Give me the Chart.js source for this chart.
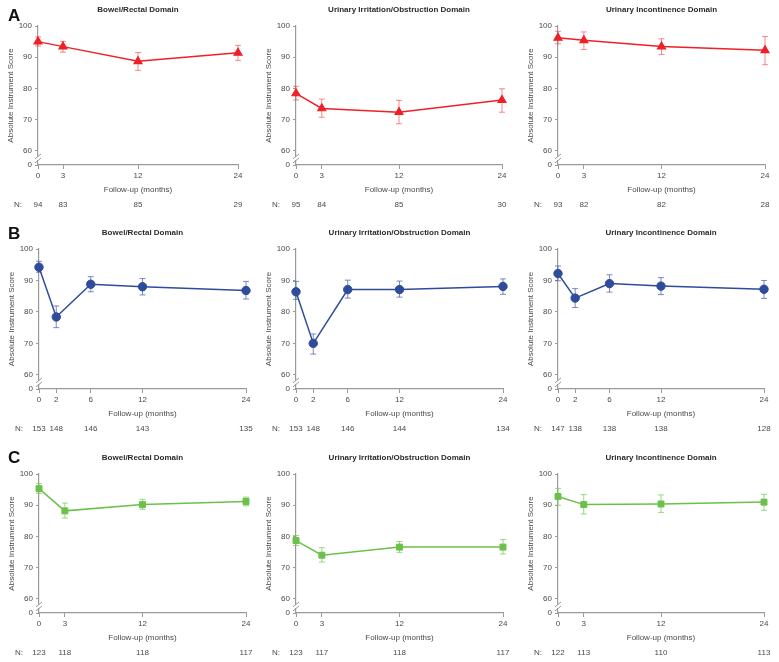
<!DOCTYPE html>
<html>
<head>
<meta charset="utf-8">
<script src="https://cdn.jsdelivr.net/npm/chart.js@4.4.1/dist/chart.umd.min.js"></script>
<style>
  html, body { margin: 0; padding: 0; background: #fff; }
  #wrap { position: relative; width: 779px; height: 662px; overflow: hidden; }
  #wrap canvas { position: absolute; }
</style>
</head>
<body>
<div id="wrap"></div>
<script>
const domains = ["Bowel/Rectal Domain", "Urinary Irritation/Obstruction Domain", "Urinary Incontinence Domain"];
const panelLetters = ["A", "B", "C"];
const yTicks = [60, 70, 80, 90, 100];
const yFloor = 55.5; // shown as "0" below the axis break

// row A
const monthsA = [0, 3, 12, 24];
const scoresA = [[95.0, 93.4, 88.7, 91.4], [78.4, 73.6, 72.4, 76.3], [96.2, 95.4, 93.4, 92.2]];
const lowerA = [[93.6, 91.6, 85.8, 89.0], [76.3, 70.8, 68.7, 72.4], [94.3, 92.5, 90.9, 87.6]];
const upperA = [[96.5, 95.1, 91.5, 93.8], [80.7, 76.6, 76.2, 79.9], [98.3, 98.1, 95.9, 96.6]];
const countsA = [[94, 83, 85, 29], [95, 84, 85, 30], [93, 82, 82, 28]];

// row B
const monthsB = [0, 2, 6, 12, 24];
const scoresB = [[94.2, 78.4, 88.8, 88.0, 86.8], [86.4, 70.0, 87.1, 87.1, 88.1], [92.2, 84.4, 89.0, 88.2, 87.2]];
const lowerB = [[92.6, 75.0, 86.4, 85.4, 84.1], [84.0, 66.6, 84.4, 84.7, 85.6], [89.9, 81.4, 86.3, 85.5, 84.3]];
const upperB = [[96.1, 81.9, 91.2, 90.6, 89.7], [89.7, 73.0, 90.1, 89.8, 90.5], [94.6, 87.4, 91.8, 90.9, 90.0]];
const countsB = [[153, 148, 146, 143, 135], [153, 148, 146, 144, 134], [147, 138, 138, 138, 128]];

// row C
const monthsC = [0, 3, 12, 24];
const scoresC = [[95.3, 88.2, 90.2, 91.2], [78.7, 74.0, 76.6, 76.6], [92.8, 90.2, 90.4, 91.0]];
const lowerC = [[93.8, 85.9, 88.7, 89.8], [77.1, 71.8, 74.9, 74.4], [90.0, 87.2, 87.7, 88.4]];
const upperC = [[97.0, 90.7, 91.9, 92.6], [80.3, 76.4, 78.4, 79.0], [95.4, 93.4, 93.3, 93.5]];
const countsC = [[123, 118, 118, 117], [123, 117, 118, 117], [122, 113, 110, 113]];

const FONT = "'Liberation Sans', Arial, sans-serif";
const axisGray = "#9a9a9a";
const textGray = "#4a4a4a";

// chart area boxes in page pixels
const rowBox = [[26, 165], [249, 389], [474, 613]];
const colBox = [
  [[38, 238], [296, 502], [558, 765]],
  [[39, 246], [296, 503], [558, 764]],
  [[39, 246], [296, 503], [558, 764]],
];
const letterBase = [21, 16, 15];

const rowStyles = [
  { color: "#ef2027", err: "rgba(238, 60, 64, 0.6)", point: "triangle", radius: 4.6, border: 1.2 },
  { color: "#2f4b9c", err: "rgba(80, 102, 170, 0.75)", point: "circle", radius: 4.2, border: 1 },
  { color: "#6cc04a", err: "rgba(120, 200, 95, 0.75)", point: "rect", radius: 4.2, border: 1 },
];

const rows = [
  { months: monthsA, scores: scoresA, lower: lowerA, upper: upperA, counts: countsA },
  { months: monthsB, scores: scoresB, lower: lowerB, upper: upperB, counts: countsB },
  { months: monthsC, scores: scoresC, lower: lowerC, upper: upperC, counts: countsC },
];

const wrap = document.getElementById("wrap");

function makePanel(r, c) {
  const row = rows[r];
  const style = rowStyles[r];
  const [top, bottom] = rowBox[r];
  const [left, right] = colBox[r][c];
  const months = row.months;
  const lower = row.lower[c];
  const upper = row.upper[c];
  const counts = row.counts[c];

  const canvas = document.createElement("canvas");
  canvas.width = right - left + 48;
  canvas.height = bottom - top + 74;
  canvas.style.left = (left - 38) + "px";
  canvas.style.top = (top - 26) + "px";
  wrap.appendChild(canvas);

  const extras = {
    id: "extras" + r + c,
    beforeDatasetsDraw(chart) {
      const { ctx } = chart;
      const xs = chart.scales.x;
      const ys = chart.scales.y;
      ctx.save();
      ctx.strokeStyle = style.err;
      ctx.lineWidth = 1;
      months.forEach((m, i) => {
        const px = xs.getPixelForValue(m);
        const hi = ys.getPixelForValue(upper[i]);
        const lo = ys.getPixelForValue(lower[i]);
        ctx.beginPath();
        ctx.moveTo(px, hi);
        ctx.lineTo(px, lo);
        ctx.moveTo(px - 3, hi);
        ctx.lineTo(px + 3, hi);
        ctx.moveTo(px - 3, lo);
        ctx.lineTo(px + 3, lo);
        ctx.stroke();
      });
      ctx.restore();
    },
    afterDraw(chart) {
      const { ctx, chartArea } = chart;
      const xs = chart.scales.x;
      const ys = chart.scales.y;
      ctx.save();

      // panel title
      ctx.fillStyle = "#2a2a2a";
      ctx.font = "bold 8px " + FONT;
      ctx.textAlign = "center";
      ctx.textBaseline = "middle";
      ctx.fillText(domains[c], (chartArea.left + chartArea.right) / 2, chartArea.top - 16);

      // N row
      ctx.fillStyle = textGray;
      ctx.font = "8px " + FONT;
      const ny = chartArea.bottom + 40;
      ctx.fillText("N:", chartArea.left - 20, ny);
      months.forEach((m, i) => {
        ctx.fillText(String(counts[i]), xs.getPixelForValue(m), ny);
      });

      // axis break on y
      const bx = chartArea.left;
      const by = ys.getPixelForValue(57.6);
      ctx.fillStyle = "#fff";
      ctx.fillRect(bx - 1.5, by - 1.5, 3, 3);
      ctx.strokeStyle = axisGray;
      ctx.lineWidth = 1;
      ctx.beginPath();
      ctx.moveTo(bx - 3, by + 0.5);
      ctx.lineTo(bx + 3, by - 4.5);
      ctx.moveTo(bx - 3, by + 4.5);
      ctx.lineTo(bx + 3, by - 0.5);
      ctx.stroke();

      // panel letter
      if (c === 0) {
        ctx.fillStyle = "#111";
        ctx.font = "bold 17px " + FONT;
        ctx.textAlign = "left";
        ctx.textBaseline = "alphabetic";
        ctx.fillText(panelLetters[r], 8 - (left - 38), letterBase[r]);
      }
      ctx.restore();
    },
  };

  new Chart(canvas, {
    type: "line",
    data: {
      datasets: [
        {
          data: months.map((m, i) => ({ x: m, y: row.scores[c][i] })),
          borderColor: style.color,
          backgroundColor: style.color,
          pointBackgroundColor: style.color,
          pointBorderColor: style.color,
          pointStyle: style.point,
          pointRadius: style.radius,
          pointBorderWidth: style.border,
          borderWidth: 1.5,
          tension: 0,
          clip: false,
        },
      ],
    },
    options: {
      responsive: false,
      animation: false,
      devicePixelRatio: 1,
      layout: { padding: { left: 0, right: 10, top: 26, bottom: 0 } },
      plugins: { legend: { display: false }, tooltip: { enabled: false } },
      scales: {
        x: {
          type: "linear",
          min: 0,
          max: 24,
          afterBuildTicks(scale) {
            scale.ticks = months.map((v) => ({ value: v }));
          },
          afterFit(scale) {
            scale.height = 48;
          },
          ticks: {
            color: textGray,
            font: { family: FONT, size: 8 },
            padding: 2,
            autoSkip: false,
            maxRotation: 0,
          },
          grid: { drawOnChartArea: false, color: axisGray, tickLength: 4, lineWidth: 1 },
          border: { color: axisGray, width: 1.2 },
          title: {
            display: true,
            text: "Follow-up (months)",
            color: textGray,
            font: { family: FONT, size: 8 },
            padding: { top: 0, bottom: 18 },
          },
        },
        y: {
          min: yFloor,
          max: 100,
          afterBuildTicks(scale) {
            scale.ticks = [yFloor, ...yTicks].map((v) => ({ value: v }));
          },
          afterFit(scale) {
            scale.width = 38;
          },
          ticks: {
            color: textGray,
            font: { family: FONT, size: 8 },
            padding: 3,
            callback: (v) => (v === yFloor ? "0" : v),
          },
          grid: { drawOnChartArea: false, color: axisGray, tickLength: 3, lineWidth: 1 },
          border: { color: axisGray, width: 1.2 },
          title: {
            display: true,
            text: "Absolute Instrument Score",
            color: textGray,
            font: { family: FONT, size: 8 },
            padding: { top: 6, bottom: 0 },
          },
        },
      },
    },
    plugins: [extras],
  });
}

for (let r = 0; r < 3; r++) {
  for (let c = 0; c < 3; c++) {
    makePanel(r, c);
  }
}
</script>
</body>
</html>
